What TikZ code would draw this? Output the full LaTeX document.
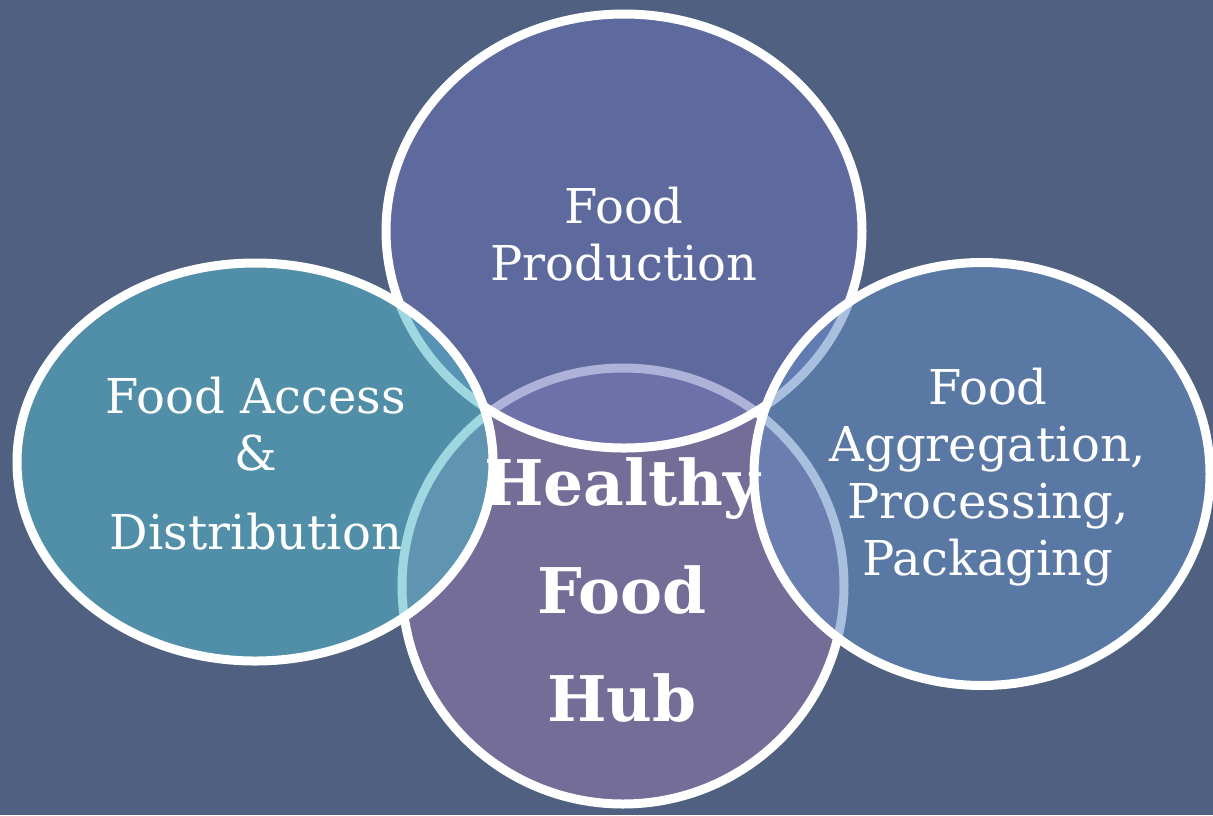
\documentclass[tikz,border=0pt]{standalone}
\usepackage{fontspec}
\setmainfont{DejaVu Serif}
\usetikzlibrary{shapes.geometric}

\definecolor{slate}{RGB}{79,96,128}
\definecolor{hubfill}{RGB}{146,121,172}
\definecolor{prodfill}{RGB}{108,114,184}
\definecolor{accessfill}{RGB}{81,183,200}
\definecolor{aggrfill}{RGB}{99,140,195}

\tikzset{
  petal/.style={ellipse, draw=white, line width=9pt, fill opacity=0.55, inner sep=0pt},
  petaltext/.style={text=white, align=center, font=\fontsize{48}{57}\selectfont},
  hubtext/.style={text=white, align=center, font=\bfseries\fontsize{63}{108}\selectfont}
}

\begin{document}
\begin{tikzpicture}[x=1pt, y=-1pt]
  % background
  \fill[slate] (0,0) rectangle (1213,815);
  \useasboundingbox (0,0) rectangle (1213,815);

  % the four ellipses, hub first so the others lie over it
  \node[petal, fill=hubfill, minimum width=442pt, minimum height=436pt] (hub) at (623,586) {};
  \node[petal, fill=prodfill, minimum width=476pt, minimum height=434pt] (prod) at (624,231) {};
  \node[petal, fill=accessfill, minimum width=476pt, minimum height=398pt] (access) at (255,462) {};
  \node[petal, fill=aggrfill, minimum width=456pt, minimum height=423pt] (aggr) at (982,474) {};

  % labels
  \node[petaltext] (prodtxt) at (624,234) {Food\\Production};
  \node[petaltext] (accesstxt) at (256,464) {Food Access\\\&\\[22pt]Distribution};
  \node[petaltext] (aggrtxt) at (988,477) {Food\\Aggregation,\\Processing,\\Packaging};
  \node[hubtext] (hubtxt) at (622,590) {Healthy\\Food\\Hub};
\end{tikzpicture}
\end{document}
